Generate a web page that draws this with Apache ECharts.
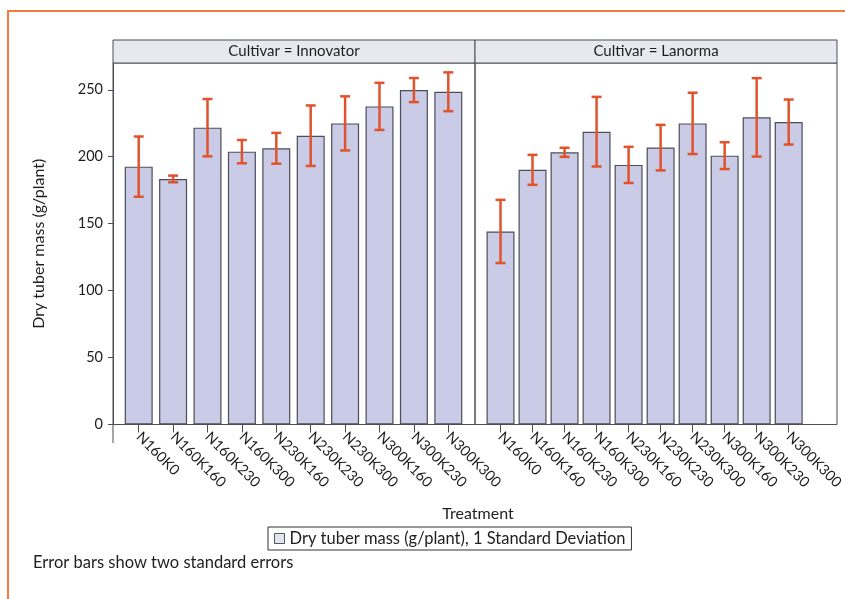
<!DOCTYPE html>
<html>
<head>
<meta charset="utf-8">
<script src="https://cdn.jsdelivr.net/npm/echarts@6/dist/echarts.min.js"></script>
<style>
  html, body { margin: 0; background: #fff; }
  #chart { width: 845px; height: 599px; }
</style>
</head>
<body>
<div id="chart"></div>
<script>
// data
const treatments = ["N160K0", "N160K160", "N160K230", "N160K300", "N230K160", "N230K230", "N230K300", "N300K160", "N300K230", "N300K300"];
const innovatorMass = [192.6, 183.4, 221.7, 203.8, 206.3, 215.7, 224.9, 237.6, 249.8, 248.5];
const innovatorErr = [22.5, 2.5, 21.4, 8.7, 11.5, 22.6, 20.2, 17.6, 9.0, 14.5];
const lanormaMass = [144.2, 190.2, 203.3, 218.7, 193.9, 206.8, 224.9, 200.8, 229.4, 225.9];
const lanormaErr = [23.6, 11.2, 3.4, 26.0, 13.5, 17.0, 22.9, 10.0, 29.3, 16.8];
const yTicks = [0, 50, 100, 150, 200, 250];
const panelTitles = ["Cultivar = Innovator", "Cultivar = Lanorma"];
const seriesName = "Dry tuber mass (g/plant), 1 Standard Deviation";

const FONT = "Lato, 'Open Sans', sans-serif";
const BAR = "#c9cbe7";
const EDGE = "#4d4d57";
const ERR = "#e0532c";
const ORANGE = "#f47a3e";
const INK = "#1e1e1e";

const errData = (mass, err) => mass.map((m, i) => [i, m - err[i], m + err[i]]);

function renderErr(params, api) {
  const i = api.value(0);
  const top = api.coord([i, api.value(2)]);
  const bot = api.coord([i, api.value(1)]);
  const hw = 5;
  const style = { stroke: ERR, lineWidth: 2.5 };
  return {
    type: "group",
    children: [
      { type: "line", shape: { x1: top[0], y1: top[1], x2: bot[0], y2: bot[1] }, style },
      { type: "line", shape: { x1: top[0] - hw, y1: top[1], x2: top[0] + hw, y2: top[1] }, style },
      { type: "line", shape: { x1: bot[0] - hw, y1: bot[1], x2: bot[0] + hw, y2: bot[1] }, style },
    ],
  };
}

const yBase = { type: "value", min: 0, max: 270 };
const catAxis = (gridIndex) => ({
  type: "category",
  gridIndex,
  data: treatments,
  axisLine: { show: false },
  axisTick: { show: true, alignWithLabel: true, length: 8, lineStyle: { color: EDGE } },
  axisLabel: { rotate: -45, fontSize: 14.5, color: INK, fontFamily: FONT, margin: 10, interval: 0 },
});

const chart = echarts.init(document.getElementById("chart"), null, { renderer: "canvas" });
chart.setOption({
  animation: false,
  grid: [
    { left: 113, top: 63, width: 362, height: 361.5, show: true, borderColor: EDGE, borderWidth: 1 },
    { left: 475, top: 63, width: 362, height: 361.5, show: true, borderColor: EDGE, borderWidth: 1 },
    { left: 121.5, top: 63, width: 344, height: 361.5 },
    { left: 484.5, top: 63, width: 348.5, height: 361.5 },
  ],
  xAxis: [
    { type: "value", gridIndex: 0, show: false },
    { type: "value", gridIndex: 1, show: false },
    catAxis(2),
    catAxis(3),
  ],
  yAxis: [
    {
      ...yBase, gridIndex: 0,
      name: "Dry tuber mass (g/plant)", nameLocation: "middle", nameGap: 66,
      nameTextStyle: { fontSize: 16, color: INK, fontFamily: FONT },
      axisLine: { show: true, lineStyle: { color: EDGE } },
      axisTick: { show: true, length: 5, customValues: yTicks, lineStyle: { color: EDGE } },
      axisLabel: { fontSize: 14.5, color: INK, fontFamily: FONT, margin: 10, customValues: yTicks },
      splitLine: { show: false },
    },
    { ...yBase, gridIndex: 1, show: false, splitLine: { show: false } },
    { ...yBase, gridIndex: 2, show: false, splitLine: { show: false } },
    { ...yBase, gridIndex: 3, show: false, splitLine: { show: false } },
  ],
  legend: {
    data: [{ name: seriesName }],
    left: 268, top: 527,
    icon: "rect", itemWidth: 10, itemHeight: 10, itemGap: 6,
    borderColor: "#333", borderWidth: 1, padding: [3, 6, 3, 6],
    itemStyle: { color: "#e3e4f1", borderColor: "#555", borderWidth: 1 },
    textStyle: { fontSize: 16.5, color: INK, fontFamily: FONT },
  },
  series: [
    {
      name: seriesName, type: "bar", xAxisIndex: 2, yAxisIndex: 2, data: innovatorMass, barWidth: 28,
      itemStyle: { color: BAR, borderColor: EDGE, borderWidth: 1.2 },
    },
    {
      name: seriesName, type: "bar", xAxisIndex: 3, yAxisIndex: 3, data: lanormaMass, barWidth: 28,
      itemStyle: { color: BAR, borderColor: EDGE, borderWidth: 1.2 },
    },
    { name: "err1", type: "custom", xAxisIndex: 2, yAxisIndex: 2, data: errData(innovatorMass, innovatorErr), renderItem: renderErr, z: 5 },
    { name: "err2", type: "custom", xAxisIndex: 3, yAxisIndex: 3, data: errData(lanormaMass, lanormaErr), renderItem: renderErr, z: 5 },
  ],
  graphic: [
    // orange frame
    { type: "polyline", shape: { points: [[8, 599], [8, 11], [845, 11]] }, style: { stroke: ORANGE, lineWidth: 2, fill: null } },
    // panel headers
    { type: "rect", shape: { x: 113, y: 40, width: 362, height: 23 }, style: { fill: "#e8e9f0", stroke: EDGE, lineWidth: 1 } },
    { type: "rect", shape: { x: 475, y: 40, width: 362, height: 23 }, style: { fill: "#e8e9f0", stroke: EDGE, lineWidth: 1 } },
    { type: "text", x: 294, y: 51.5, style: { text: panelTitles[0], fontSize: 15, fontFamily: FONT, fill: INK, align: "center", verticalAlign: "middle" } },
    { type: "text", x: 656, y: 51.5, style: { text: panelTitles[1], fontSize: 15, fontFamily: FONT, fill: INK, align: "center", verticalAlign: "middle" } },
    // y axis line running past the baseline
    { type: "line", shape: { x1: 113, y1: 424.5, x2: 113, y2: 443 }, style: { stroke: EDGE, lineWidth: 1 } },
    { type: "text", x: 478, y: 514, style: { text: "Treatment", fontSize: 16, fontFamily: FONT, fill: INK, align: "center", verticalAlign: "middle" } },
    { type: "text", x: 33, y: 563, style: { text: "Error bars show two standard errors", fontSize: 16.5, fontFamily: FONT, fill: INK, verticalAlign: "middle" } },
  ],
});
</script>
</body>
</html>
